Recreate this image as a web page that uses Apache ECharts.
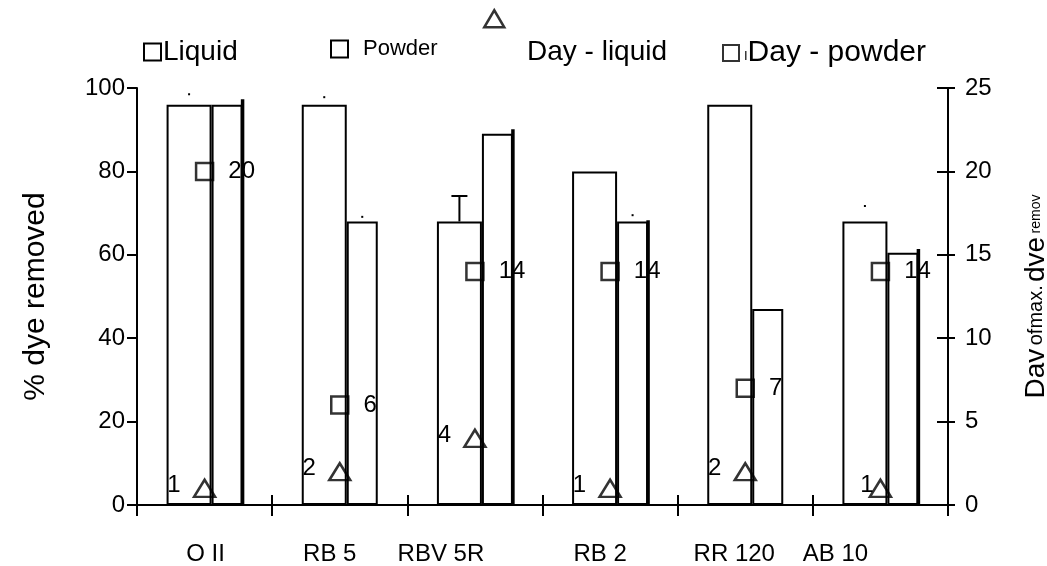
<!DOCTYPE html>
<html>
<head>
<meta charset="utf-8">
<script src="https://cdn.jsdelivr.net/npm/echarts@6/dist/echarts.min.js"></script>
<style>html,body{margin:0;padding:0;background:#fff}#c{width:1047px;height:566px}</style>
</head>
<body>
<div id="c"></div>
<script>
// ---- data ----
const categories = ['O II', 'RB 5', 'RBV 5R', 'RB 2', 'RR 120', 'AB 10'];
const liquid = [96, 96, 68, 80, 96, 68];          // % dye removed, liquid
const powder = [96, 68, 89, 68, 47, 60.5];        // % dye removed, powder
const liquidErr = [98.5, 97.8, 74.1, null, null, 71.7];   // upper error ends
const powderErr = [null, 69.1, null, 69.5, null, null];
const powderEdge = [97.3, null, 90.1, 68.3, null, 61.4];  // heavy right edge of powder bar
const dayLiquid = [1, 2, 4, 1, 2, 1];             // day of max. dye removal, liquid
const dayPowder = [20, 6, 14, 14, 7, 14];         // day of max. dye removal, powder
const leftTicks = [0, 20, 40, 60, 80, 100];
const rightTicks = [0, 5, 10, 15, 20, 25];

// ---- layout ----
const FONT = 'Liberation Sans, Arial, sans-serif';
const LIQ_W = 45, POW_W = 31;
const labelShift = [1, -10, -34, -10, -11, -45];

const chart = echarts.init(document.getElementById('c'), null, {renderer: 'canvas'});

function edgeItem(params, api) {
  const i = api.value(0);
  const base = api.coord([i, 0]);
  const top = api.coord([i, api.value(1)]);
  const x = base[0] + (LIQ_W + POW_W) / 2;
  return {type: 'line', shape: {x1: x, y1: base[1], x2: x, y2: top[1]},
    style: {stroke: '#000', lineWidth: 3.5}};
}
function errItem(params, api) {
  const i = api.value(0);
  const side = api.value(3);
  const c = api.coord([i, 0]);
  const start = c[0] - (LIQ_W + POW_W) / 2;
  const x = side === 0 ? start + LIQ_W / 2 : start + LIQ_W + POW_W / 2;
  const yErr = api.coord([i, api.value(1)])[1];
  const yTop = api.coord([i, api.value(2)])[1];
  if (yTop - yErr > 20) {
    return {type: 'group', children: [
      {type: 'line', shape: {x1: x, y1: yTop, x2: x, y2: yErr}, style: {stroke: '#000', lineWidth: 2}},
      {type: 'line', shape: {x1: x - 8, y1: yErr, x2: x + 8, y2: yErr}, style: {stroke: '#000', lineWidth: 2}}
    ]};
  }
  return {type: 'rect', shape: {x: x - 1, y: yErr - 1, width: 2, height: 2}, style: {fill: '#000'}};
}
const errData = [];
liquidErr.forEach((v, i) => { if (v != null) errData.push([i, v, liquid[i], 0]); });
powderErr.forEach((v, i) => { if (v != null) errData.push([i, v, powder[i], 1]); });
const edgeData = [];
powderEdge.forEach((v, i) => { if (v != null) edgeData.push([i, v]); });

const txt = {fontFamily: FONT, color: '#000'};
const hollow = {color: 'rgba(0,0,0,0)', borderColor: '#000', borderWidth: 2};

const option = {
  animation: false,
  backgroundColor: '#fff',
  grid: {left: 137, right: 99, top: 88, bottom: 61, containLabel: false, outerBoundsMode: 'none'},
  legend: [
    {data: ['Liquid'], left: 138, top: 33, icon: 'rect', itemWidth: 17, itemHeight: 17, itemGap: 0,
      itemStyle: hollow, textStyle: Object.assign({fontSize: 28, padding: [0, 0, 0, -3]}, txt)},
    {data: ['Powder'], left: 325, top: 33, icon: 'rect', itemWidth: 17, itemHeight: 17,
      itemStyle: hollow, textStyle: Object.assign({fontSize: 22, padding: [0, 0, 0, 10]}, txt)},
    {data: ['Day - liquid'], left: 478, top: 4, icon: 'triangle', itemWidth: 20, itemHeight: 17,
      itemStyle: {color: 'rgba(0,0,0,0)', borderColor: '#000', borderWidth: 2.5},
      formatter: function () { return ''; }, textStyle: txt},
    {data: ['Day - liquid'], left: 517, top: 33, icon: 'none', itemWidth: 0, itemHeight: 17,
      textStyle: Object.assign({fontSize: 28}, txt)},
    {data: ['Day - powder'], left: 717, top: 33, icon: 'rect', itemWidth: 16, itemHeight: 16,
      itemStyle: hollow,
      formatter: function (n) { return '{s|I}{t|' + n + '}'; },
      textStyle: Object.assign({fontSize: 30, rich: {
        s: {fontSize: 13, fontFamily: FONT, color: '#000', padding: [6, 0, 0, 0]},
        t: {fontSize: 30, fontFamily: FONT, color: '#000'}}}, txt)}
  ],
  xAxis: [
    {type: 'category', position: 'bottom',
      data: categories.map((c, i) => ({value: c, textStyle: {padding: labelShift[i] > 0 ? [0, 0, 0, 2 * labelShift[i]] : [0, -2 * labelShift[i], 0, 0]}})),
      axisLine: {lineStyle: {color: '#000', width: 2}},
      axisTick: {show: true, length: 11, lineStyle: {color: '#000', width: 2}},
      axisLabel: Object.assign({fontSize: 24, margin: 37}, txt),
      splitLine: {show: false}},
    {type: 'category', position: 'bottom', data: categories,
      axisLine: {show: false},
      axisTick: {show: true, inside: true, length: 10, lineStyle: {color: '#000', width: 2}},
      axisLabel: {show: false}, splitLine: {show: false}}
  ],
  yAxis: [
    {type: 'value', position: 'left', min: leftTicks[0], max: leftTicks[leftTicks.length - 1], interval: 20,
      name: '% dye removed', nameLocation: 'middle', nameRotate: 90, nameGap: 86,
      nameTextStyle: Object.assign({fontSize: 30}, txt),
      axisLine: {show: true, lineStyle: {color: '#000', width: 2}},
      axisTick: {show: true, length: 10, lineStyle: {color: '#000', width: 2}},
      axisLabel: Object.assign({fontSize: 24, margin: 12}, txt),
      splitLine: {show: false}},
    {type: 'value', position: 'right', min: rightTicks[0], max: rightTicks[rightTicks.length - 1], interval: 5,
      name: '{a|Dav} {b|ofmax.} {a|dve} {c|remov}', nameLocation: 'middle', nameRotate: 90, nameGap: 74,
      nameTextStyle: Object.assign({rich: {
        a: {fontSize: 28, fontFamily: FONT, color: '#000'},
        b: {fontSize: 20, fontFamily: FONT, color: '#000'},
        c: {fontSize: 14, fontFamily: FONT, color: '#000'}}}, txt),
      axisLine: {show: true, lineStyle: {color: '#000', width: 2}},
      axisTick: {show: true, length: 7, lineStyle: {color: '#000', width: 2}},
      axisLabel: Object.assign({fontSize: 24, margin: 17}, txt),
      splitLine: {show: false}},
    {type: 'value', position: 'right', min: rightTicks[0], max: rightTicks[rightTicks.length - 1], interval: 5,
      axisLine: {show: false},
      axisTick: {show: true, inside: true, length: 11, lineStyle: {color: '#000', width: 2}},
      axisLabel: {show: false}, splitLine: {show: false}}
  ],
  series: [
    {name: 'Liquid', type: 'bar', data: liquid, barWidth: LIQ_W, barGap: '0%',
      itemStyle: {color: '#fff', borderColor: '#000', borderWidth: 2}, z: 2},
    {name: 'Powder', type: 'bar', data: powder, barWidth: POW_W, barGap: '0%',
      itemStyle: {color: '#fff', borderColor: '#000', borderWidth: 2}, z: 2},
    {name: 'edge', type: 'custom', renderItem: edgeItem, data: edgeData, encode: {x: 0, y: 1}, z: 3, silent: true},
    {name: 'err', type: 'custom', renderItem: errItem, data: errData, encode: {x: 0, y: 1}, z: 3, silent: true},
    {name: 'Day - liquid', type: 'scatter', yAxisIndex: 1, data: dayLiquid.map((v, i) => i === 5 ? {value: v, label: {distance: -5}} : v),
      symbol: 'triangle', symbolSize: [21, 17],
      itemStyle: {color: 'rgba(0,0,0,0)', borderColor: '#000', borderWidth: 2.5},
      label: Object.assign({show: true, position: 'left', distance: 12, offset: [0, -3], fontSize: 24, opacity: 1, textBorderWidth: 0}, txt), z: 5},
    {name: 'Day - powder', type: 'scatter', yAxisIndex: 1, data: dayPowder,
      symbol: 'rect', symbolSize: 17,
      itemStyle: {color: 'rgba(0,0,0,0)', borderColor: '#000', borderWidth: 2.5},
      label: Object.assign({show: true, position: 'right', distance: 14, fontSize: 24, opacity: 1, textBorderWidth: 0}, txt), z: 5}
  ]
};
chart.setOption(option);
</script>
</body>
</html>
